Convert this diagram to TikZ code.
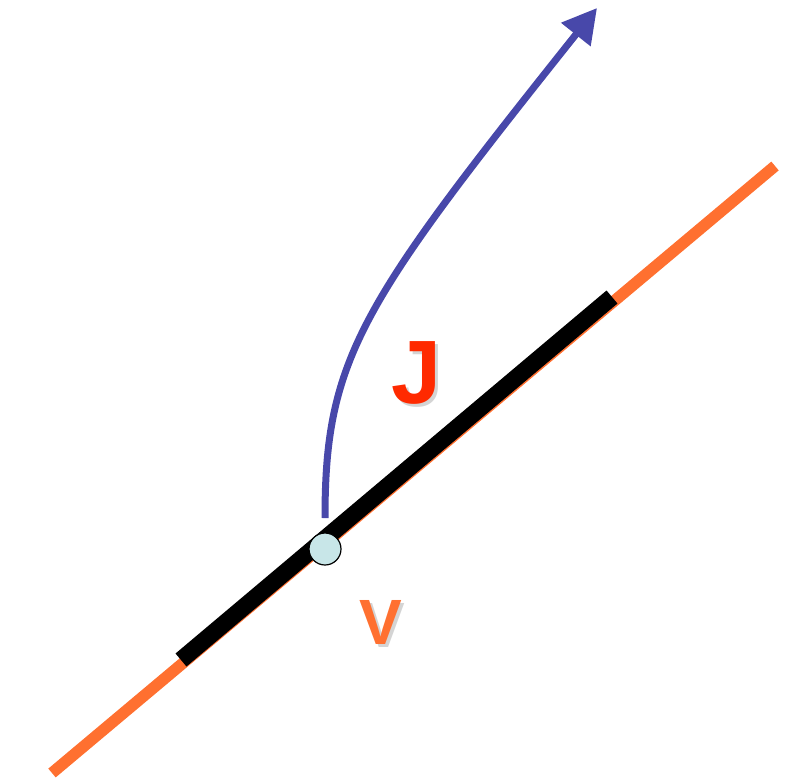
\documentclass[tikz,border=0pt]{standalone}
\usepackage{fontspec}
\setmainfont{Liberation Sans}
\usetikzlibrary{arrows.meta}
\definecolor{lineorange}{HTML}{FF7030}
\definecolor{jred}{HTML}{FF2A00}
\definecolor{arrowblue}{HTML}{4848AA}
\definecolor{dotfill}{HTML}{C8E6E8}
\definecolor{shadowgrey}{HTML}{D4D4D4}
\tikzset{
  orangeline/.style={draw=lineorange, line width=11.5pt},
  blackseg/.style={draw=black, line width=17pt},
  bluearrow/.style={draw=arrowblue, line width=7pt, -{Triangle[length=34pt,width=36pt]}},
  dot/.style={circle, draw=black, line width=1.2pt, fill=dotfill, minimum size=32pt, inner sep=0pt},
}
\begin{document}
\begin{tikzpicture}[x=1pt,y=-1pt]
\useasboundingbox (0,0) rectangle (787,781);
\coordinate (oA) at (52,773);
\coordinate (oB) at (775,166);
\coordinate (bA) at (181,660);
\coordinate (bB) at (612,297);
\coordinate (cS) at (325,518);
\coordinate (cE) at (597,8);
\draw[orangeline] (oA) -- (oB);
\draw[blackseg] (bA) -- (bB);
\draw[bluearrow] (cS) .. controls (325,358) and (361,304) .. (cE);
\node[dot] (v) at (325,549) {};
\node[text=shadowgrey, font=\fontsize{90}{90}\selectfont\bfseries] at (420,376) {J};
\node[text=jred, font=\fontsize{90}{90}\selectfont\bfseries] (J) at (417,373) {J};
\node[text=shadowgrey, font=\fontsize{64}{64}\selectfont\bfseries] at (384,625) {V};
\node[text=lineorange, font=\fontsize{64}{64}\selectfont\bfseries] (V) at (381,622) {V};
\end{tikzpicture}
\end{document}
